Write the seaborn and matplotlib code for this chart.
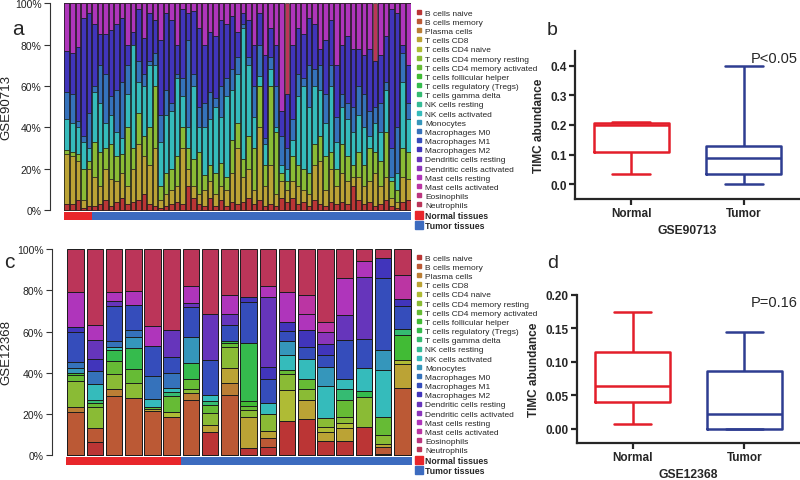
import matplotlib
matplotlib.use("Agg")
import matplotlib.pyplot as plt
from matplotlib.lines import Line2D
import numpy as np
import pandas as pd
import seaborn as sns

cell_types = ["B cells naive", "B cells memory", "Plasma cells", "T cells CD8",
              "T cells CD4 naive", "T cells CD4 memory resting",
              "T cells CD4 memory activated", "T cells follicular helper",
              "T cells regulatory (Tregs)", "T cells gamma delta",
              "NK cells resting", "NK cells activated", "Monocytes",
              "Macrophages M0", "Macrophages M1", "Macrophages M2",
              "Dendritic cells resting", "Dendritic cells activated",
              "Mast cells resting", "Mast cells activated", "Eosinophils",
              "Neutrophils"]

# ---- GSE90713 (panel a), % per sample, 5 normal + 58 tumor ----
n_normal_90713 = 5
n_tumor_90713 = 58
a_b_naive = [3, 3, 5, 1, 2, 2, 3, 5, 2, 4, 6, 3, 4, 5, 8, 3, 2, 1, 2, 3, 4, 3, 12, 6, 3,
             2, 6, 2, 5, 2, 4, 3, 4, 6, 3, 5, 2, 3, 2, 6, 4, 6, 3, 4, 2, 5, 3, 2, 4, 3,
             4, 3, 12, 5, 3, 4, 2, 3, 5, 2, 1, 4, 5]
a_t_cd8 = [24, 23, 19, 4, 18, 14, 9, 15, 13, 10, 12, 9, 16, 27, 18, 19, 28, 4, 6, 7, 8, 27,
           8, 6, 5, 8, 8, 6, 7, 8, 14, 27, 12, 14, 7, 35, 10, 19, 6, 8, 6, 8, 9, 6, 6, 17,
           21, 8, 16, 9, 14, 11, 4, 11, 9, 10, 16, 9, 11, 4, 3, 12, 10]
a_cd4_mem = [2, 2, 3, 15, 4, 17, 16, 10, 17, 12, 9, 28, 10, 15, 10, 18, 30, 7, 10, 10, 14,
             10, 10, 13, 20, 7, 8, 10, 11, 6, 16, 12, 9, 16, 20, 20, 10, 38, 30, 4, 4, 12,
             10, 10, 10, 10, 12, 16, 8, 8, 14, 12, 6, 12, 10, 16, 10, 12, 22, 8, 6, 14, 13]
a_nk_act = [15, 14, 13, 13, 6, 24, 24, 12, 14, 12, 8, 16, 50, 15, 24, 30, 10, 21, 28, 28, 38,
            15, 10, 35, 12, 23, 22, 32, 22, 39, 24, 24, 63, 34, 15, 5, 10, 8, 2, 4, 6, 8,
            33, 40, 32, 28, 22, 16, 32, 13, 18, 18, 16, 18, 18, 6, 14, 14, 20, 2, 8, 32, 16]
a_mac_m0 = [13, 14, 3, 3, 17, 3, 18, 24, 9, 20, 27, 14, 0, 10, 6, 2, 6, 13, 12, 4, 2, 9, 42,
            6, 10, 12, 13, 4, 15, 9, 10, 8, 2, 4, 15, 15, 3, 6, 20, 14, 10, 10, 11, 4, 20,
            8, 12, 14, 10, 12, 6, 8, 12, 14, 16, 12, 8, 14, 4, 14, 22, 14, 8]
a_mac_m2 = [20, 20, 36, 57, 48, 30, 15, 19, 32, 32, 31, 10, 6, 25, 17, 23, 16, 36, 37, 40, 14,
            33, 13, 30, 38, 28, 29, 30, 32, 26, 26, 12, 5, 18, 20, 15, 40, 14, 20, 12, 26,
            36, 22, 21, 23, 22, 8, 26, 22, 25, 24, 32, 28, 18, 19, 30, 22, 23, 22, 67, 55, 4, 18]
a_mast_rest = [23, 24, 21, 7, 5, 10, 15, 15, 13, 10, 7, 20, 14, 3, 17, 5, 8, 18, 5, 8, 20, 3,
               5, 4, 12, 20, 14, 16, 8, 10, 6, 14, 5, 8, 20, 5, 25, 12, 20, 52, 0, 20, 12,
               15, 7, 10, 22, 18, 8, 30, 20, 16, 22, 22, 25, 22, 0, 25, 16, 3, 5, 20, 30]
a_neutro = [0, 0, 0, 0, 0, 0, 0, 0, 0, 0, 0, 0, 0, 0, 0, 0, 0, 0, 0, 0, 0, 0, 0, 0, 0,
            0, 0, 0, 0, 0, 0, 0, 0, 0, 0, 0, 0, 0, 0, 0, 44, 0, 0, 0, 0, 0, 0, 0, 0, 0,
            0, 0, 0, 0, 0, 0, 28, 0, 0, 0, 0, 0, 0]

# ---- GSE12368 (panel c), % per sample, 6 normal + 12 tumor ----
n_normal_12368 = 6
n_tumor_12368 = 12
c_vals = {
    "B cells naive": [0, 6.3, 0, 0, 0, 0, 0, 11.6, 0, 3.5, 4.3, 16.9, 17.7, 7.1, 7.2, 14.0, 0.8, 0],
    "B cells memory": [21.2, 7.2, 28.8, 27.7, 21.7, 18.8, 27.0, 0, 29.3, 0, 4.0, 0, 0, 0, 0, 0, 3.5, 32.5],
    "Plasma cells": [2.1, 0, 3.4, 0, 0, 0, 3.1, 0, 5.6, 0, 0, 0, 0, 0, 0, 0, 0, 0],
    "T cells CD8": [0, 0, 0, 0, 0.8, 0, 0, 3.2, 7.7, 15.3, 3.7, 0, 9.2, 4.2, 5.9, 0, 1.1, 11.7],
    "T cells CD4 naive": [0, 0, 0, 0, 0, 2.4, 0, 0, 0, 0, 0, 14.8, 0, 2.7, 2.4, 0, 0, 1.9],
    "T cells CD4 memory resting": [12.9, 10.1, 7.2, 7.2, 0, 0, 1.9, 5.9, 10.0, 3.2, 8.0, 8.0, 5.3, 4.3, 3.2, 14.1, 4.5, 0],
    "T cells CD4 memory activated": [2.7, 1.6, 6.4, 6.9, 0.8, 7.6, 4.8, 3.7, 1.9, 1.9, 0, 1.6, 4.7, 0, 8.4, 0, 8.8, 0],
    "T cells follicular helper": [1.1, 0, 0, 0, 0, 0, 0, 0, 0, 2.4, 0, 0, 0, 0, 0, 0, 0, 12.5],
    "T cells regulatory (Tregs)": [0, 0, 5.1, 10.3, 0, 0, 8.0, 0, 1.0, 28.3, 0, 0, 0, 0, 0, 3.2, 0, 0],
    "T cells gamma delta": [0, 1.6, 0, 0, 0, 1.8, 0, 1.9, 0, 0, 0, 0, 0, 0, 5.0, 0, 0, 2.7],
    "NK cells activated": [0, 7.7, 1.6, 0, 3.9, 2.3, 0, 2.9, 0, 0, 5.5, 7.2, 10.1, 15.3, 5.1, 11.3, 22.8, 0],
    "Monocytes": [2.6, 0, 0, 5.3, 0, 0, 12.5, 0, 0, 0, 0, 6.8, 0, 9.0, 0, 0, 9.6, 0],
    "Macrophages M0": [2.7, 6.3, 2.9, 3.5, 11.3, 6.9, 0, 0, 0, 0, 0, 0, 0, 0, 0, 0, 0, 0],
    "Macrophages M1": [14.5, 0, 16.7, 12.1, 14.6, 8.0, 14.5, 16.9, 7.9, 19.6, 11.4, 5.0, 5.6, 5.9, 18.5, 13.7, 35.0, 11.3],
    "Macrophages M2": [2.4, 5.8, 0, 0, 0, 0, 0, 0, 0, 2.4, 5.9, 4.3, 8.4, 5.3, 0, 0, 9.6, 3.2],
    "Dendritic cells resting": [0, 9.2, 2.6, 0, 0, 13.2, 2.3, 22.5, 5.3, 0, 33.8, 0, 0, 0, 12.4, 30.1, 0, 0],
    "Dendritic cells activated": [0, 0, 0, 0, 0, 0, 0, 0, 0, 0, 0, 0, 0, 5.9, 0, 0, 0, 0],
    "Mast cells resting": [17.2, 7.2, 4.3, 6.9, 9.5, 0, 8.2, 0, 8.8, 0, 5.6, 14.8, 7.4, 0, 17.7, 7.7, 0, 0],
    "Mast cells activated": [0, 0, 0, 0, 0, 0, 0, 0, 0, 0, 0, 0, 9.5, 4.8, 0, 0, 0, 11.7],
    "Neutrophils": [20.6, 37.0, 20.9, 20.1, 37.5, 39.1, 17.7, 31.4, 22.5, 23.3, 17.7, 20.6, 22.2, 35.4, 14.2, 5.9, 4.3, 12.5],
}

# ---- TIMC abundance box plots: min, Q1, median, Q3, max ----
box_groups = ["Normal", "Tumor"]
b_normal = [0.033, 0.108, 0.200, 0.208, 0.209]
b_tumor = [0.000, 0.035, 0.088, 0.128, 0.400]
d_normal = [0.008, 0.040, 0.064, 0.115, 0.175]
d_tumor = [0.000, 0.000, 0.022, 0.087, 0.145]

palette = sns.hls_palette(22, h=0.0, l=0.47, s=0.56)
group_colors = {"Normal": "#e8262b", "Tumor": "#3c6bbf"}
box_colors = {"Normal": "#e31e2a", "Tumor": "#2e3d91"}

sns.set_style("ticks")
plt.rcParams["font.family"] = ["Liberation Sans", "DejaVu Sans"]

W, H = 800, 481
fig = plt.figure(figsize=(W / 100, H / 100), dpi=100)


def px_rect(left, top, right, bottom):
    return [left / W, 1 - bottom / H, (right - left) / W, (bottom - top) / H]


def frame_a():
    d = {t: [0.0] * (n_normal_90713 + n_tumor_90713) for t in cell_types}
    d["B cells naive"] = a_b_naive
    d["T cells CD8"] = a_t_cd8
    d["T cells CD4 memory resting"] = a_cd4_mem
    d["NK cells activated"] = a_nk_act
    d["Macrophages M0"] = a_mac_m0
    d["Macrophages M2"] = a_mac_m2
    d["Mast cells resting"] = a_mast_rest
    d["Neutrophils"] = a_neutro
    return pd.DataFrame(d)[cell_types]


def frame_c():
    n = n_normal_12368 + n_tumor_12368
    d = {t: c_vals.get(t, [0.0] * n) for t in cell_types}
    return pd.DataFrame(d)[cell_types]


def stacked(ax, frac, n_normal, bar_width, lw, ylabel, left_px, width_px):
    frac = frac.div(frac.sum(axis=1), axis=0) * 100
    cum = frac.cumsum(axis=1)
    n = len(frac)
    names = [f"S{i + 1}" for i in range(n)]
    # draw cumulative tops from the last cell type down so each one covers the next
    for j in range(len(cell_types) - 1, -1, -1):
        sns.barplot(x=names, y=cum.iloc[:, j].values, color=palette[j],
                    width=bar_width, saturation=1, errorbar=None,
                    edgecolor="#1c1c1c", linewidth=lw, ax=ax)
    groups = ["Normal"] * n_normal + ["Tumor"] * (n - n_normal)
    ax.bar(np.arange(n), -3.6, bottom=-0.9, width=1.0,
           color=[group_colors[g] for g in groups], linewidth=0)
    ax.set_ylim(-5.6, 101)
    slot = (width_px - 14) / n
    ax.set_xlim(-0.5 - 14 / slot, n - 0.5)
    ax.set_yticks([0, 20, 40, 60, 80, 100])
    ax.set_yticklabels(["0%", "20%", "40%", "60%", "80%", "100%"], fontsize=7.5, color="#222222")
    ax.set_xticks([])
    ax.set_xlabel("")
    ax.set_ylabel(ylabel, fontsize=9.5, color="#222222")
    ax.yaxis.set_label_coords((12 - left_px) / width_px, 0.5 + 2.5 / 106.6)
    for s in ["top", "right", "bottom"]:
        ax.spines[s].set_visible(False)
    ax.spines["left"].set_bounds(0, 100)
    ax.spines["left"].set_color("#333333")
    ax.spines["left"].set_linewidth(0.8)
    ax.tick_params(axis="y", length=4, width=0.8, color="#333333", pad=2)


def legend_for(x_px, y_px):
    handles = [Line2D([], [], marker="s", ls="", markersize=2.2, color=palette[i])
               for i in range(len(cell_types))]
    handles += [Line2D([], [], marker="s", ls="", markersize=5.5, color=group_colors[g])
                for g in ["Normal", "Tumor"]]
    labels = cell_types + ["Normal tissues", "Tumor tissues"]
    leg = fig.legend(handles, labels, loc="upper left",
                     bbox_to_anchor=(x_px / W, 1 - y_px / H), frameon=False,
                     fontsize=6, labelspacing=0.16, handlelength=0.9,
                     handletextpad=0.35, borderpad=0, borderaxespad=0)
    for t in leg.get_texts()[-2:]:
        t.set_fontweight("bold")
        t.set_fontsize(6.3)
    return leg


def boxes(ax, stats_normal, stats_tumor, ylim, yticks, fmt, xlabel, ptext):
    df = pd.DataFrame({"group": ["Normal"] * 5 + ["Tumor"] * 5,
                       "TIMC": stats_normal + stats_tumor})
    sns.boxplot(data=df, x="group", y="TIMC", hue="group", order=box_groups,
                palette=box_colors, fill=False, whis=(0, 100), width=0.67,
                linewidth=1.8, saturation=1, legend=False, ax=ax)
    ax.set_xlim(-0.5, 1.5)
    ax.set_ylim(*ylim)
    ax.set_yticks(yticks)
    ax.set_yticklabels([fmt.format(v) for v in yticks], fontsize=8.5, fontweight="bold")
    ax.set_xticks([0, 1])
    ax.set_xticklabels(box_groups, fontsize=8.5, fontweight="bold")
    ax.set_xlabel(xlabel, fontsize=8.7, fontweight="bold", labelpad=3)
    ax.set_ylabel("TIMC abundance", fontsize=8.5, fontweight="bold", labelpad=4)
    sns.despine(ax=ax)
    for s in ["left", "bottom"]:
        ax.spines[s].set_linewidth(1.6)
    ax.tick_params(length=4, width=1.6, pad=2)
    ax.text(0.78, 1.0, ptext, transform=ax.transAxes, fontsize=10.5, ha="left", va="top")


ax_a = fig.add_axes(px_rect(50, 2, 411, 223))
stacked(ax_a, frame_a(), n_normal_90713, 0.82, 0.45, "GSE90713", 50, 361)
legend_for(415, 10)

ax_c = fig.add_axes(px_rect(52, 248, 412, 468))
stacked(ax_c, frame_c(), n_normal_12368, 0.86, 0.7, "GSE12368", 52, 360)
legend_for(415, 255)

ax_b = fig.add_axes(px_rect(575, 52, 800, 200))
boxes(ax_b, b_normal, b_tumor, (-0.05, 0.45), [0.0, 0.1, 0.2, 0.3, 0.4], "{:.1f}",
      "GSE90713", "P<0.05")

ax_d = fig.add_axes(px_rect(577, 296, 800, 444))
boxes(ax_d, d_normal, d_tumor, (-0.021, 0.2), [0.0, 0.05, 0.10, 0.15, 0.20], "{:.2f}",
      "GSE12368", "P=0.16")

fig.text(12 / W, 1 - 35 / H, "a", fontsize=15, va="baseline")
fig.text(4 / W, 1 - 268 / H, "c", fontsize=15, va="baseline")
fig.text(547 / W, 1 - 35 / H, "b", fontsize=14, va="baseline")
fig.text(547 / W, 1 - 268 / H, "d", fontsize=14, va="baseline")

fig.savefig("out.png", dpi=100)
